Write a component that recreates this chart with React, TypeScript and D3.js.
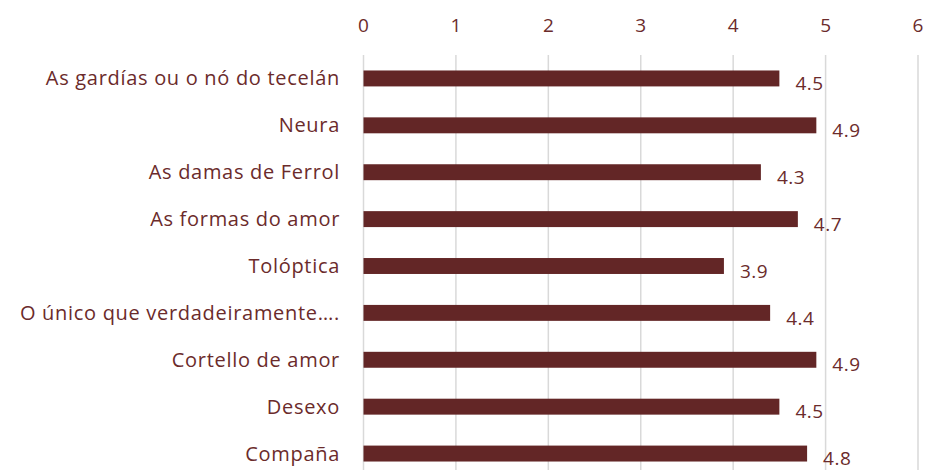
import React from "react";
import * as d3 from "d3";

const categories = [
  "As gardías ou o nó do tecelán",
  "Neura",
  "As damas de Ferrol",
  "As formas do amor",
  "Tolóptica",
  "O único que verdadeiramente….",
  "Cortello de amor",
  "Desexo",
  "Compaña",
];
const values = [4.5, 4.9, 4.3, 4.7, 3.9, 4.4, 4.9, 4.5, 4.8];
const tickValues = [0, 1, 2, 3, 4, 5, 6];

const W = 927;
const H = 470;
const barColor = "#632626";
const textColor = "#6B2B2B";
const font = "'Open Sans', sans-serif";

export default function App() {
  const x = d3.scaleLinear().domain([0, 6]).range([363.5, 918]);
  const y = d3.scaleBand().domain(categories).range([55, 477]).paddingInner(0.66).paddingOuter(0.33);
  return (
    <svg width={W} height={H} style={{ position: "absolute", left: 0, top: 0 }}>
      <rect width={W} height={H} fill="#fff" />
      {tickValues.map((t) => (
        <g key={t}>
          <line x1={x(t)} x2={x(t)} y1={55} y2={H} stroke="#D9D9D9" strokeWidth={1.5} />
          <text x={x(t)} y={32} textAnchor="middle" fontFamily={font} fontSize={19} fill={textColor}>
            {t}
          </text>
        </g>
      ))}
      {categories.map((c, i) => {
        const yc = (y(c) as number) + y.bandwidth() / 2;
        return (
          <g key={c}>
            <rect x={x(0)} y={y(c)} width={x(values[i]) - x(0)} height={y.bandwidth()} fill={barColor} />
            <text x={340} y={yc} dy="0.35em" textAnchor="end" fontFamily={font} fontSize={20} letterSpacing={0.7} fill={textColor}>
              {c}
            </text>
            <text x={x(values[i]) + 16} y={yc + 5} dy="0.35em" textAnchor="start" fontFamily={font} fontSize={19} letterSpacing={0.5} fill={textColor}>
              {values[i].toFixed(1)}
            </text>
          </g>
        );
      })}
    </svg>
  );
}
